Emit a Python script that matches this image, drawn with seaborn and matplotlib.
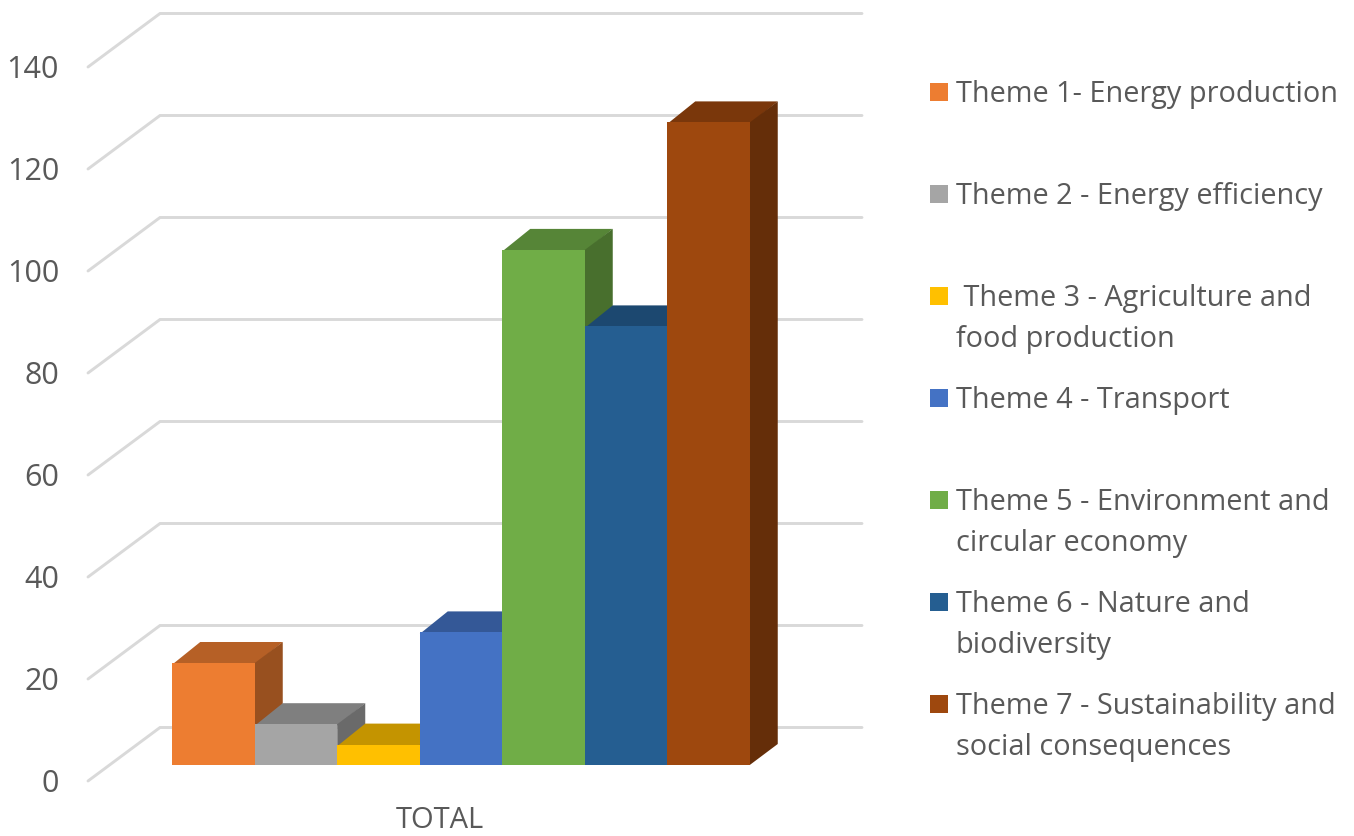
import matplotlib
matplotlib.use("Agg")
import matplotlib.pyplot as plt
import pandas as pd
import seaborn as sns
from matplotlib.colors import to_rgb
from matplotlib.patches import Polygon, Rectangle

themes = [
    "Theme 1- Energy production",
    "Theme 2 - Energy efficiency",
    " Theme 3 - Agriculture and\nfood production",
    "Theme 4 - Transport",
    "Theme 5 - Environment and\ncircular economy",
    "Theme 6 - Nature and\nbiodiversity",
    "Theme 7 - Sustainability and\nsocial consequences",
]
values = [20, 8, 4, 26, 101, 86, 126]
colors = ["#ED7D31", "#A5A5A5", "#FFC000", "#4472C4", "#70AD47", "#255E91", "#9E480E"]
y_ticks = [0, 20, 40, 60, 80, 100, 120, 140]
category = "TOTAL"

W, H = 1354, 836
TEXT = "#595959"
GRID = "#D9D9D9"
FONT = "Open Sans"

# scale of the picture: one bar is 82.5 px wide, one unit is 5.1 px high
BAR_PX = 82.5
UNIT_PX = 5.1
X0_PX = 213.5
Y0_PX = 765
DX = 28 / BAR_PX
DY = 21 / UNIT_PX


def px_x(px):
    return (px - X0_PX) / BAR_PX


def px_y(px):
    return (Y0_PX - px) / UNIT_PX


def shade(color, factor):
    return tuple(c * factor for c in to_rgb(color))


sns.set_theme(style="white")
plt.rcParams["font.family"] = [FONT, "DejaVu Sans"]

fig = plt.figure(figsize=(W / 100, H / 100), dpi=100)
ax = fig.add_axes([0, 0, 1, 1])

df = pd.DataFrame({"theme": themes, "value": values})
sns.barplot(data=df, x="theme", y="value", hue="theme", palette=colors,
            width=1, dodge=False, legend=False, saturation=1, linewidth=0, ax=ax, zorder=3)

ax.set_xlim(px_x(0), px_x(W))
ax.set_ylim(px_y(H), px_y(0))
ax.axis("off")

# back wall grid lines with the slanted piece on the left wall
for tick in y_ticks:
    y_back = tick + px_y(727.5)
    y_front = tick + px_y(781)
    ax.plot([px_x(88), px_x(160), px_x(862)], [y_front, y_back, y_back],
            color=GRID, lw=2.1, zorder=1, solid_capstyle="round", solid_joinstyle="miter")
    ax.text(px_x(59), tick + px_y(784), str(tick), ha="right", va="center",
            fontsize=22, color=TEXT)

# top and side faces, painted left to right so each front covers the last side
# the faces run a little under the front so no seam shows along the edge
for i, bar in enumerate(ax.patches):
    x0, x1 = bar.get_x(), bar.get_x() + bar.get_width()
    h = bar.get_height()
    bar.set_zorder(3 + i)
    top = [(x0, h - 0.3), (x1, h - 0.3), (x1 + DX, h + DY), (x0 + DX, h + DY)]
    side = [(x1, 0), (x1 + DX, DY), (x1 + DX, h + DY), (x1, h)]
    ax.add_patch(Polygon(top, closed=True, fc=shade(colors[i], 0.77), ec="none", zorder=2.5 + i))
    ax.add_patch(Polygon(side, closed=True, fc=shade(colors[i], 0.64), ec="none", zorder=2.6 + i))

ax.text(px_x(440), px_y(821), category, ha="center", va="center", fontsize=21, color=TEXT)

# legend, one row every 102 px
for i, (label, color) in enumerate(zip(themes, colors)):
    top_px = 83 + 102 * i
    fig.add_artist(Rectangle((930 / W, 1 - (top_px + 18) / H), 18 / W, 18 / H,
                             transform=fig.transFigure, fc=color, ec="none"))
    for j, line in enumerate(label.split("\n")):
        fig.text(956 / W, 1 - (102 + 102 * i + 41 * j) / H, line, ha="left", va="baseline",
                 fontsize=20.75, color=TEXT)

fig.savefig("out.png", dpi=100, facecolor="white")
